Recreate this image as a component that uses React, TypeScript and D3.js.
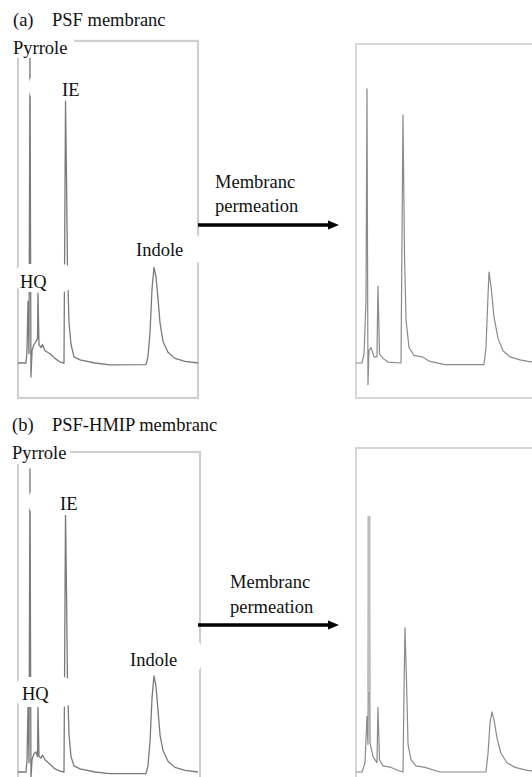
import React from "react";
import * as d3 from "d3";

// ---- Data: chromatograms, [retention time (min), signal (% of full scale)] ----
const psfFeed: [number, number][] = [
  [0, 0], [0.89, 0], [1.0, 4], [1.11, 20], [1.22, 3], [1.33, 99], [1.44, -4.5], [1.56, 4],
  [1.78, 6], [2.0, 7], [2.17, 8], [2.22, 22.7], [2.33, 6], [2.56, 5], [2.72, 6], [3.0, 4],
  [3.56, 3], [4.11, 1.5], [4.67, 0.3], [5.11, 0], [5.28, 85], [5.39, 60], [5.5, 30],
  [5.67, 13], [5.89, 6], [6.22, 2], [6.89, 1], [8.56, 0], [10.22, -0.6], [14.22, -0.5],
  [14.44, 2], [14.67, 10], [14.89, 24], [15.11, 31], [15.33, 28], [15.56, 21], [15.78, 13],
  [16.11, 7], [16.67, 3.5], [17.44, 1.5], [18.56, 0.5], [20, 0],
];
const psfPermeate: [number, number][] = [
  [0, 0], [0.67, 0], [0.89, 3], [1.11, 20], [1.22, 89], [1.33, -7], [1.44, 4], [1.67, 5],
  [2.0, 2], [2.33, 2], [2.44, 25], [2.61, 3], [3.0, 1.5], [3.56, 0.3], [5.0, 0], [5.11, 40],
  [5.22, 80.5], [5.39, 35], [5.56, 14], [5.89, 5], [6.44, 2.5], [7.33, 2], [8.22, 0.5],
  [9.89, -0.5], [14.22, -0.5], [14.44, 5], [14.67, 22], [14.78, 29.5], [15.0, 25],
  [15.33, 15], [15.78, 8], [16.33, 4], [17.11, 2], [18.22, 1], [20, 0],
];
const hmipFeed: [number, number][] = [
  [0, 0], [0.89, 0], [1.0, 4], [1.11, 21], [1.22, 3], [1.33, 98.4], [1.44, -2], [1.56, 4],
  [1.78, 6], [2.0, 6.5], [2.17, 5], [2.22, 21.4], [2.33, 5], [2.56, 4.5], [2.72, 5.5],
  [3.0, 4], [3.56, 2.5], [4.11, 1], [4.67, 0.3], [5.11, 0], [5.28, 84.7], [5.39, 58],
  [5.5, 28], [5.67, 12], [5.89, 5], [6.22, 2], [6.89, 1], [8.56, 0], [10.22, -0.5],
  [14.22, -0.5], [14.44, 2], [14.67, 10], [14.89, 24], [15.11, 31.2], [15.33, 28],
  [15.56, 20], [15.78, 12], [16.11, 7], [16.67, 3.5], [17.44, 1.5], [18.56, 0.5], [20, 0],
];
const hmipPermeate: [number, number][] = [
  [0, 0], [0.67, 0], [1.0, 3], [1.22, 18], [1.33, 9], [1.44, 83], [1.56, 9.4], [1.89, 5],
  [2.33, 3], [2.44, 21], [2.61, 4], [3.0, 2], [3.78, 1.6], [4.67, 0.5], [5.22, 0],
  [5.33, 25], [5.44, 46.8], [5.61, 30], [5.78, 9], [6.11, 4], [6.67, 2], [7.67, 1.5],
  [9.33, 0], [14.44, 0], [14.67, 6], [14.89, 16], [15.11, 19.5], [15.33, 17], [15.67, 11],
  [16.11, 6], [16.78, 3], [17.67, 1.5], [18.78, 0.7], [20, 0],
];
const hmipPermeatePyrrole: [number, number][] = [[1.44, 26], [1.44, 83]];

const timeDomain: [number, number] = [0, 20];
const signalDomain: [number, number] = [0, 100];

const titleTags = ["(a)", "(b)"];
const titleNames = ["PSF membranc", "PSF-HMIP membranc"];
const peakNames = ["Pyrrole", "IE", "HQ", "Indole"];
const arrowLines = ["Membranc", "permeation"];

// ---- Layout ----
const W = 532;
const H = 777;
const FONT = "Liberation Serif, Times New Roman, DejaVu Serif, serif";
const FS = 18.5;

type Box = { x: number; y: number; w: number; h: number; tx: number; ty: number };

const groups = [
  {
    feed: psfFeed,
    perm: psfPermeate,
    extra: null as [number, number][] | null,
    titleY: 26,
    leftFrame: { x: 18, y: 41, w: 180, h: 357 },
    rightFrame: { x: 356, y: 44, w: 200, h: 354 },
    leftRange: [18, 198] as [number, number],
    rightRange: [356, 536] as [number, number],
    base: 363,
    labels: [
      { x: 10, y: 37, w: 66, h: 21, tx: 13, ty: 54 },
      { x: 29, y: 74, w: 55, h: 26, tx: 62, ty: 96 },
      { x: 16, y: 264, w: 56, h: 28, tx: 20, ty: 288 },
      { x: 130, y: 234, w: 72, h: 30, tx: 136, ty: 256 },
    ] as Box[],
    memb: { x: 215, y1: 188, y2: 212 },
    arrowY: 225,
  },
  {
    feed: hmipFeed,
    perm: hmipPermeate,
    extra: hmipPermeatePyrrole,
    titleY: 431,
    leftFrame: { x: 18, y: 452, w: 182, h: 360 },
    rightFrame: { x: 356, y: 448, w: 200, h: 364 },
    leftRange: [18, 198] as [number, number],
    rightRange: [356, 536] as [number, number],
    base: 772,
    labels: [
      { x: 9, y: 442, w: 61, h: 22, tx: 12, ty: 459 },
      { x: 29, y: 488, w: 55, h: 27, tx: 60, ty: 510 },
      { x: 16, y: 677, w: 56, h: 30, tx: 22, ty: 700 },
      { x: 125, y: 640, w: 77, h: 32, tx: 130, ty: 666 },
    ] as Box[],
    memb: { x: 230, y1: 588, y2: 613 },
    arrowY: 625,
  },
];

function tracePath(data: [number, number][], xr: [number, number], base: number) {
  const x = d3.scaleLinear().domain(timeDomain).range(xr);
  const y = d3.scaleLinear().domain(signalDomain).range([base, base - 308]);
  return (
    d3
      .line<[number, number]>()
      .x((d) => x(d[0]))
      .y((d) => y(d[1]))(data) || ""
  );
}

const textStyle: React.CSSProperties = { fontFamily: FONT, fontSize: FS };

export default function App() {
  return (
    <svg
      width={W}
      height={H}
      viewBox={`0 0 ${W} ${H}`}
      style={{ position: "absolute", left: 0, top: 0, background: "#fff" }}
    >
      <rect x={0} y={0} width={W} height={H} fill="#fff" />
      {groups.map((g, gi) => (
        <g key={gi}>
          {/* title */}
          <text x={gi === 0 ? 13 : 12} y={g.titleY} style={textStyle} fill="#111">
            {titleTags[gi]}
          </text>
          <text x={52} y={g.titleY} style={textStyle} fill="#111">
            {titleNames[gi]}
          </text>

          {/* frames */}
          <rect
            x={g.leftFrame.x}
            y={g.leftFrame.y}
            width={g.leftFrame.w}
            height={g.leftFrame.h}
            fill="none"
            stroke="#cfcfcf"
            strokeWidth={2.2}
          />
          <rect
            x={g.rightFrame.x}
            y={g.rightFrame.y}
            width={g.rightFrame.w}
            height={g.rightFrame.h}
            fill="none"
            stroke="#d6d6d6"
            strokeWidth={2}
          />

          {/* traces */}
          <path
            d={tracePath(g.feed, g.leftRange, g.base)}
            fill="none"
            stroke="#7a7a7a"
            strokeWidth={1.3}
            strokeLinejoin="round"
          />
          <path
            d={tracePath(g.perm, g.rightRange, g.base)}
            fill="none"
            stroke="#8a8a8a"
            strokeWidth={1.2}
            strokeLinejoin="round"
          />
          {g.extra && (
            <path
              d={tracePath(g.extra, g.rightRange, g.base)}
              fill="none"
              stroke="#bdbdbd"
              strokeWidth={3.2}
            />
          )}

          {/* peak labels */}
          {g.labels.map((b, i) => (
            <g key={i}>
              <rect x={b.x} y={b.y} width={b.w} height={b.h} rx={9} ry={9} fill="#fff" />
              <text x={b.tx} y={b.ty} style={textStyle} fill="#111">
                {peakNames[i]}
              </text>
            </g>
          ))}

          {/* arrow */}
          <text x={g.memb.x} y={g.memb.y1} style={textStyle} fill="#111">
            {arrowLines[0]}
          </text>
          <text x={g.memb.x} y={g.memb.y2} style={textStyle} fill="#111">
            {arrowLines[1]}
          </text>
          <line x1={198} x2={330} y1={g.arrowY} y2={g.arrowY} stroke="#000" strokeWidth={3.5} />
          <path
            d={`M328,${g.arrowY - 4.5} L339,${g.arrowY} L328,${g.arrowY + 4.5} Z`}
            fill="#000"
          />
        </g>
      ))}
    </svg>
  );
}
